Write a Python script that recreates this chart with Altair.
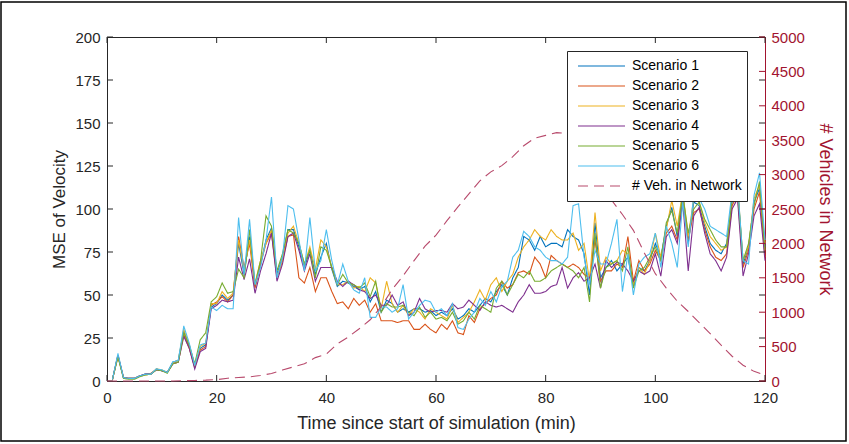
import altair as alt
import pandas as pd

FONT = "Liberation Sans"
DARK = "#262626"
CRIMSON = "#A2142F"

# Time axis (minutes since the start of the simulation)
minutes = list(range(1, 121))

# MSE of velocity per scenario, one value per minute
scenario_1 = [1, 15, 2, 1.5, 1.5, 3, 4, 4, 7, 6, 5, 11, 12, 29, 20, 8, 19, 21, 43, 45,
              50, 47, 50, 80, 62, 84, 55, 68, 82, 89, 62, 72, 88, 88, 78, 66, 76, 62, 72, 80,
              65, 55, 58, 57, 55, 53, 55, 46, 52, 40, 47, 45, 40, 42, 40, 42, 42, 40, 41, 38,
              40, 38, 42, 36, 38, 42, 40, 44, 48, 46, 52, 56, 50, 60, 66, 84, 82, 76, 84, 78,
              80, 80, 78, 88, 84, 82, 74, 50, 92, 60, 66, 70, 64, 68, 72, 55, 66, 64, 70, 80,
              72, 90, 101, 84, 110, 80, 104, 102, 90, 80, 76, 74, 80, 104, 112, 68, 78, 104, 112, 78]
scenario_2 = [1, 15, 2, 1.5, 1.5, 3, 4, 4.5, 6.5, 6, 5, 10, 11, 27, 19, 8, 18, 20, 44, 46,
              49, 46, 50, 84, 66, 80, 54, 68, 80, 86, 60, 70, 84, 85, 60, 57, 66, 52, 60, 60,
              52, 45, 46, 42, 48, 44, 47, 40, 45, 35, 35, 35, 34, 35, 35, 30, 30, 33, 30, 28,
              33, 30, 35, 28, 27, 38, 34, 42, 45, 48, 50, 58, 54, 56, 63, 64, 62, 72, 68, 60,
              73, 70, 68, 66, 68, 66, 62, 60, 82, 58, 64, 64, 68, 66, 84, 58, 70, 64, 68, 76,
              70, 86, 90, 82, 106, 82, 98, 100, 88, 78, 72, 70, 74, 102, 108, 66, 76, 100, 110, 72]
scenario_3 = [1, 14, 2, 1.5, 1.5, 3, 3.5, 4, 7, 6.5, 5, 10.5, 12, 30, 21, 9, 20, 22, 45, 45,
              52, 48, 51, 82, 64, 82, 57, 70, 80, 88, 61, 70, 86, 90, 80, 68, 78, 65, 82, 78,
              66, 56, 56, 58, 54, 55, 52, 60, 57, 42, 58, 45, 40, 44, 38, 42, 40, 36, 42, 40,
              38, 36, 44, 34, 37, 40, 46, 53, 47, 56, 60, 52, 58, 62, 72, 78, 82, 88, 84, 82,
              88, 84, 82, 82, 86, 76, 80, 58, 98, 64, 72, 68, 70, 76, 74, 56, 66, 62, 70, 86,
              72, 88, 105, 90, 110, 84, 106, 104, 92, 84, 80, 76, 78, 108, 114, 70, 78, 106, 114, 80]
scenario_4 = [1, 15, 2, 1.5, 1.5, 3, 4, 4, 6.5, 6, 5, 10, 11, 26, 19, 7, 17, 19, 42, 44,
              47, 46, 47, 72, 59, 71, 51, 64, 74, 86, 58, 68, 84, 86, 76, 64, 74, 58, 66, 66,
              66, 58, 55, 58, 56, 53, 52, 48, 50, 44, 44, 50, 44, 46, 38, 40, 48, 42, 40, 41,
              41, 40, 45, 42, 43, 47, 44, 41, 46, 44, 43, 44, 42, 40, 46, 50, 56, 51, 51, 52,
              55, 56, 66, 54, 60, 63, 58, 60, 68, 54, 70, 66, 69, 68, 64, 58, 64, 62, 64, 74,
              61, 84, 88, 80, 104, 64, 96, 101, 86, 74, 70, 64, 72, 100, 106, 61, 74, 96, 103, 70]
scenario_5 = [1, 14, 1.5, 1, 1, 2.5, 3.5, 4, 6.5, 6, 4.5, 10, 11, 28, 21, 10, 24, 28, 46, 49,
              57, 51, 52, 65, 60, 88, 56, 70, 96, 90, 64, 74, 88, 86, 80, 68, 76, 60, 78, 76,
              66, 56, 62, 57, 56, 54, 57, 49, 58, 40, 45, 43, 43, 44, 40, 38, 43, 37, 40, 36,
              37, 35, 40, 33, 35, 40, 36, 44, 42, 40, 54, 58, 50, 56, 62, 60, 64, 58, 58, 60,
              64, 66, 68, 66, 64, 60, 66, 46, 86, 54, 66, 68, 70, 64, 78, 54, 64, 66, 72, 78,
              70, 92, 99, 86, 108, 86, 100, 104, 94, 88, 82, 78, 78, 106, 112, 70, 80, 102, 116, 76]
scenario_6 = [1, 16, 2, 1.5, 1.5, 3, 4, 4, 7, 6.5, 5, 11, 12, 32, 22, 9, 21, 22, 43, 41,
              44, 42, 42, 95, 62, 94, 56, 66, 82, 107, 60, 72, 102, 100, 82, 64, 95, 64, 70, 88,
              70, 56, 68, 58, 53, 51, 60, 37, 37, 43, 43, 40, 42, 56, 36, 40, 44, 47, 46, 40,
              42, 38, 45, 31, 30, 36, 40, 48, 44, 52, 46, 55, 58, 72, 76, 87, 84, 78, 76, 72,
              70, 70, 68, 72, 102, 103, 72, 56, 76, 68, 68, 80, 94, 52, 74, 50, 68, 72, 74, 86,
              66, 90, 80, 66, 104, 78, 108, 106, 100, 90, 88, 86, 84, 110, 114, 70, 68, 108, 121, 82]

# Number of vehicles in the network (right axis), every two minutes
veh_minutes = list(range(0, 121, 2))
vehicles = [0, 0, 0, 0, 0, 0, 0, 5, 8, 12, 20, 40, 50, 60, 80, 110, 160, 205, 250, 340,
            390, 540, 640, 760, 890, 1080, 1330, 1530, 1750, 1960, 2120, 2330, 2530, 2720,
            2910, 3040, 3130, 3260, 3420, 3530, 3570, 3610, 3600, 3520, 3280, 2950, 2630,
            2420, 2190, 1860, 1560, 1350, 1160, 1010, 850, 690, 520, 360, 230, 140, 85]

series_names = ["Scenario 1", "Scenario 2", "Scenario 3", "Scenario 4",
                "Scenario 5", "Scenario 6", "# Veh. in Network"]
series_colors = ["#0072BD", "#D95319", "#EDB120", "#7E2F8E", "#77AC30", "#4DBEEE", "#B84A6C"]
series_dashes = [[1, 0]] * 6 + [[10, 6]]

x_ticks = [0, 20, 40, 60, 80, 100, 120]
y_left_ticks = [0, 25, 50, 75, 100, 125, 150, 175, 200]
y_right_ticks = [0, 500, 1000, 1500, 2000, 2500, 3000, 3500, 4000, 4500, 5000]

W, H = 658, 344
TICK = 6

scenario_values = [scenario_1, scenario_2, scenario_3, scenario_4, scenario_5, scenario_6]
rows = []
for name, vals in zip(series_names[:6], scenario_values):
    for t, v in zip(minutes, vals):
        rows.append({"minute": t, "value": v, "series": name})
scen_df = pd.DataFrame(rows)
veh_df = pd.DataFrame({"minute": veh_minutes, "vehicles": vehicles,
                       "series": series_names[6]})

color_scale = alt.Scale(domain=series_names, range=series_colors)
dash_scale = alt.Scale(domain=series_names, range=series_dashes)

legend = alt.Legend(
    title=None, orient="none", legendX=460, legendY=14,
    symbolType="stroke", symbolSize=2209, symbolStrokeWidth=1.2,
    clipHeight=20, rowPadding=0, padding=5, symbolOffset=5, labelOffset=6,
    labelFontSize=14, labelColor="#000000", labelFont=FONT, labelLimit=300,
    fillColor="white", strokeColor=DARK,
)

# one axis definition per scale, shared by every layer that uses that scale
x_scale = alt.Scale(domain=[0, 120], nice=False)
x_axis = alt.Axis(values=x_ticks, title="Time since start of simulation (min)",
                  labelPadding=9, titlePadding=9, titleFontSize=18, format="d")
y_left_scale = alt.Scale(domain=[0, 200], nice=False)
y_left_axis = alt.Axis(values=y_left_ticks, title="MSE of Velocity", format="d",
                       labelPadding=7, titlePadding=6, titleFontSize=17)
y_right_scale = alt.Scale(domain=[0, 5000], nice=False)
y_right_axis = alt.Axis(orient="right", values=y_right_ticks, format="d",
                        title="# Vehicles in Network", labelPadding=6,
                        titlePadding=11, titleFontSize=18,
                        domainColor=CRIMSON, labelColor=CRIMSON,
                        titleColor=CRIMSON)

lines = alt.Chart(scen_df).mark_line(strokeWidth=1.1).encode(
    x=alt.X("minute:Q", scale=x_scale, axis=x_axis),
    y=alt.Y("value:Q", scale=y_left_scale, axis=y_left_axis),
    color=alt.Color("series:N", scale=color_scale, legend=legend),
    strokeDash=alt.StrokeDash("series:N", scale=dash_scale, legend=legend),
    order=alt.Order("minute:Q"),
)

left_tick_df = pd.DataFrame({"v": y_left_ticks})
x_tick_df = pd.DataFrame({"v": x_ticks})
right_tick_df = pd.DataFrame({"v": y_right_ticks})

# inward tick marks on the left and (mirrored) right edge for the left scale
left_ticks = alt.Chart(left_tick_df).mark_rule(color=DARK, strokeWidth=1).encode(
    y=alt.Y("v:Q", scale=y_left_scale, axis=y_left_axis),
    x=alt.value(0), x2=alt.value(TICK))
left_ticks_mirror = alt.Chart(left_tick_df).mark_rule(color=DARK, strokeWidth=1).encode(
    y=alt.Y("v:Q", scale=y_left_scale, axis=y_left_axis),
    x=alt.value(W - TICK), x2=alt.value(W))
bottom_ticks = alt.Chart(x_tick_df).mark_rule(color=DARK, strokeWidth=1).encode(
    x=alt.X("v:Q", scale=x_scale, axis=x_axis),
    y=alt.value(H - TICK), y2=alt.value(H))
top_ticks = alt.Chart(x_tick_df).mark_rule(color=DARK, strokeWidth=1).encode(
    x=alt.X("v:Q", scale=x_scale, axis=x_axis),
    y=alt.value(0), y2=alt.value(TICK))

# outer frame around the figure
frame = alt.Chart(pd.DataFrame({"f": [0]})).mark_rect(
    fill=None, stroke="#000000", strokeWidth=1.5).encode(
    x=alt.value(-106), x2=alt.value(739), y=alt.value(-35), y2=alt.value(404))

left_group = alt.layer(lines, left_ticks, left_ticks_mirror, bottom_ticks, top_ticks, frame)

veh_line = alt.Chart(veh_df).mark_line(strokeWidth=1.1).encode(
    x=alt.X("minute:Q", scale=x_scale, axis=x_axis),
    y=alt.Y("vehicles:Q", scale=y_right_scale, axis=y_right_axis),
    color=alt.Color("series:N", scale=color_scale, legend=legend),
    strokeDash=alt.StrokeDash("series:N", scale=dash_scale, legend=legend),
)
right_ticks = alt.Chart(right_tick_df).mark_rule(color=CRIMSON, strokeWidth=1).encode(
    y=alt.Y("v:Q", scale=y_right_scale, axis=y_right_axis),
    x=alt.value(W - TICK), x2=alt.value(W))

right_group = alt.layer(veh_line, right_ticks)

chart = alt.layer(left_group, right_group).resolve_scale(
    y="independent"
).properties(
    width=W, height=H,
    autosize=alt.AutoSizeParams(type="none"),
    padding={"left": 107, "top": 37, "right": 84, "bottom": 63},
    background="white",
).configure(
    font=FONT,
).configure_view(
    stroke=DARK, strokeWidth=1,
).configure_axis(
    labelFont=FONT, titleFont=FONT, titleFontWeight="normal",
    labelFontSize=15, grid=False, ticks=False, labelFlush=False,
    labelOverlap=False, domainColor=DARK, domainWidth=1,
    labelColor=DARK, titleColor=DARK,
)

chart.save("out.html", embed_options={"renderer": "svg", "actions": False})
